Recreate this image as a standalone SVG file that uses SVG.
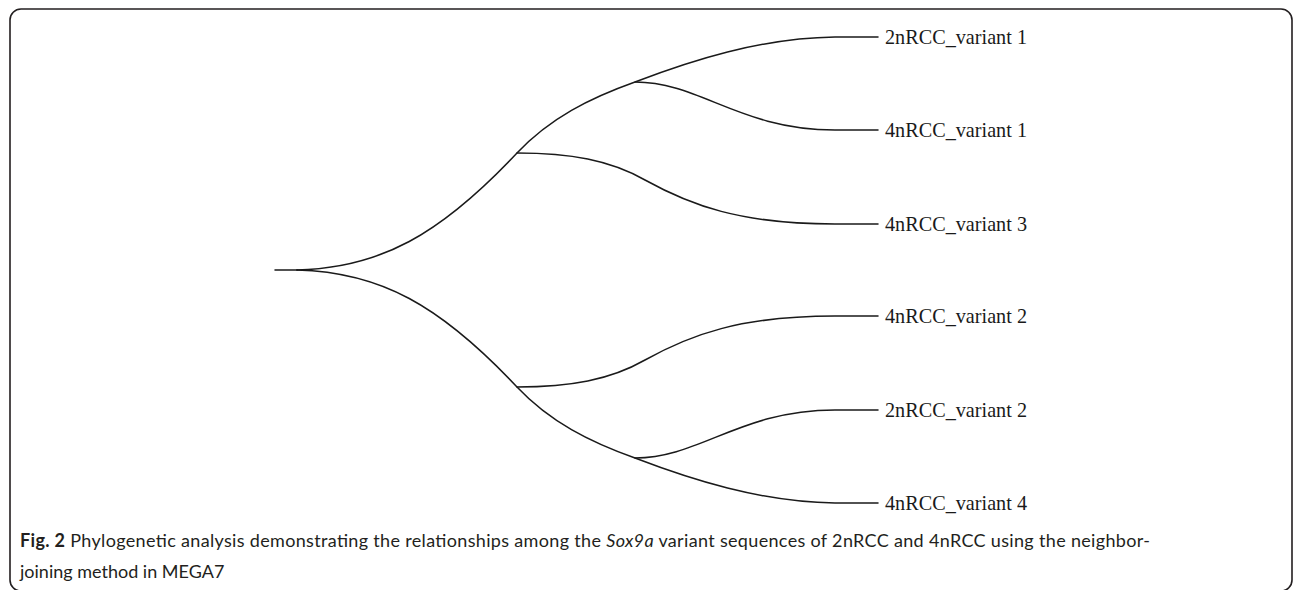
<svg xmlns="http://www.w3.org/2000/svg" width="1295" height="590" viewBox="0 0 1295 590">
<style>
.br{fill:none;stroke:#1a1a1a;stroke-width:1.5;stroke-linecap:round}
.lbl{font-family:"Liberation Serif","Times New Roman",serif;font-size:21px;fill:#1a1a1a}
.cap{font-family:Lato,"Liberation Sans",sans-serif;font-size:18px;fill:#231f20}
</style>
<rect x="10" y="9" width="1282" height="582" rx="11" ry="11" fill="#fff" stroke="#231f20" stroke-width="1.6"/>
<g id="connectors">
<path class="br" d="M275,270 L297,270"/>
<path class="br" d="M297,270 C380,268 440,235 517,153 C550,118 590,98 635,82 C690,61 760,38 835,37 L878,37"/>
<path class="br" d="M297,270 C380,272 440,305 517,387 C550,422 590,442 635,458 C690,479 760,502 835,503 L878,503"/>
<path class="br" d="M635,82 C700,82 740,130 835,130 L878,130"/>
<path class="br" d="M635,458 C700,458 740,410 835,410 L878,410"/>
<path class="br" d="M517,153 C570,153 610,160 645,180 C690,205 740,224 835,224 L878,224"/>
<path class="br" d="M517,387 C570,387 610,380 645,360 C690,335 740,316 835,316 L878,316"/>
</g>
<g id="leaf-2nRCC-v1"><text class="lbl" x="885" y="44" textLength="142" lengthAdjust="spacingAndGlyphs">2nRCC_variant 1</text></g>
<g id="leaf-4nRCC-v1"><text class="lbl" x="885" y="137" textLength="142" lengthAdjust="spacingAndGlyphs">4nRCC_variant 1</text></g>
<g id="leaf-4nRCC-v3"><text class="lbl" x="885" y="231" textLength="142" lengthAdjust="spacingAndGlyphs">4nRCC_variant 3</text></g>
<g id="leaf-4nRCC-v2"><text class="lbl" x="885" y="323" textLength="142" lengthAdjust="spacingAndGlyphs">4nRCC_variant 2</text></g>
<g id="leaf-2nRCC-v2"><text class="lbl" x="885" y="417" textLength="142" lengthAdjust="spacingAndGlyphs">2nRCC_variant 2</text></g>
<g id="leaf-4nRCC-v4"><text class="lbl" x="885" y="510" textLength="142" lengthAdjust="spacingAndGlyphs">4nRCC_variant 4</text></g>
<g id="caption">
<text class="cap" x="20" y="547" textLength="1130" lengthAdjust="spacing"><tspan font-weight="bold">Fig. 2</tspan> Phylogenetic analysis demonstrating the relationships among the <tspan font-style="italic">Sox9a</tspan> variant sequences of 2nRCC and 4nRCC using the neighbor-</text>
<text class="cap" x="20" y="578">joining method in MEGA7</text>
</g>
</svg>
